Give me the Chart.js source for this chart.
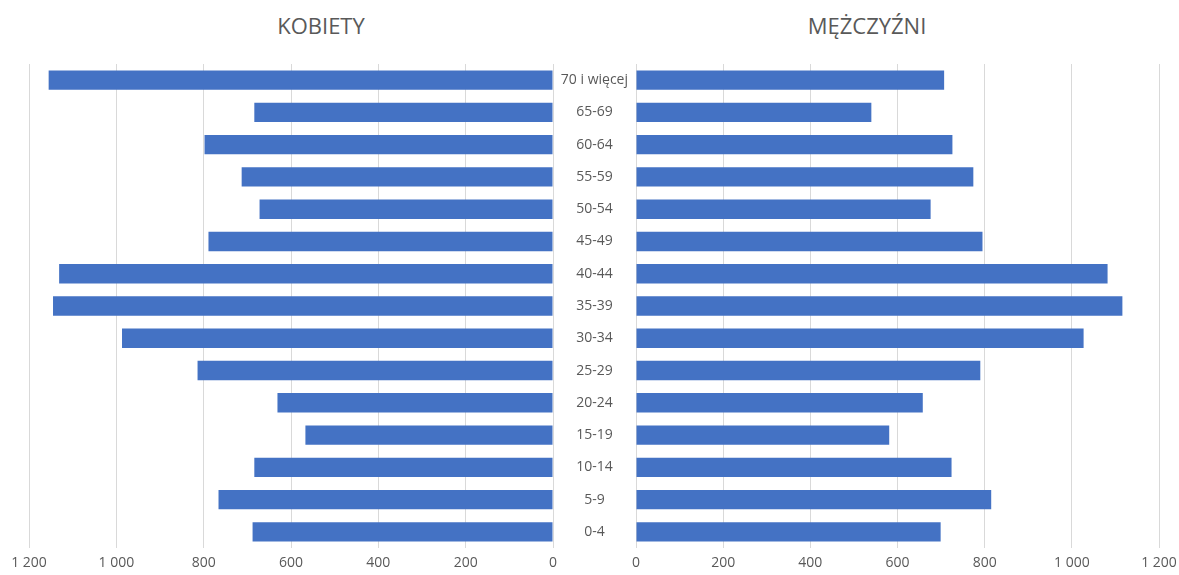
<!DOCTYPE html>
<html>
<head>
<meta charset="utf-8">
<script src="https://cdn.jsdelivr.net/npm/chart.js@4"></script>
<style>
  html, body { margin: 0; padding: 0; background: #fff; }
  #wrap { position: relative; width: 1179px; height: 575px; overflow: hidden; }
  .title { position: absolute; top: 10px; font-family: "Open Sans", sans-serif; font-size: 22px; color: #595959; transform: translateX(-50%); white-space: nowrap; }
  #left { position: absolute; left: 0; top: 0; }
  #right { position: absolute; left: 552px; top: 0; }
</style>
</head>
<body>
<div id="wrap">
  <div class="title" style="left:321px">KOBIETY</div>
  <div class="title" style="left:867px">MĘŻCZYŹNI</div>
  <canvas id="left" width="594" height="575"></canvas>
  <canvas id="right" width="627" height="575"></canvas>
</div>
<script>
// grupy wieku (od góry)
const ageGroups = ['70 i więcej', '65-69', '60-64', '55-59', '50-54', '45-49', '40-44', '35-39',
                   '30-34', '25-29', '20-24', '15-19', '10-14', '5-9', '0-4'];
const kobiety = [1155, 684, 798, 713, 672, 789, 1131, 1145, 987, 814, 631, 567, 684, 766, 688];
const mezczyzni = [707, 540, 726, 774, 676, 795, 1082, 1116, 1027, 790, 658, 581, 724, 815, 699];
const axisTicks = [0, 200, 400, 600, 800, 1000, 1200];

const grey = '#595959';
const barColor = '#4472C4';
const font = { family: 'Open Sans', size: 14 };

function fmt(v) {
  // separator tysięcy jak w Excelu: "1 200"
  return v >= 1000 ? Math.floor(v / 1000) + ' ' + String(v % 1000).padStart(3, '0') : String(v);
}

function xScale(reverse) {
  return {
    reverse: reverse,
    min: axisTicks[0],
    max: axisTicks[axisTicks.length - 1],
    afterBuildTicks: s => { s.ticks = axisTicks.map(v => ({ value: v })); },
    afterFit: s => { s.height = 27; s.paddingLeft = 0; s.paddingRight = 0; },
    ticks: { color: grey, font: font, padding: 7, callback: v => fmt(v), maxRotation: 0 },
    grid: { color: '#d9d9d9', drawTicks: false },
    border: { display: false }
  };
}

function makeChart(id, data, isLeft) {
  const yScale = {
    display: !isLeft,
    grid: { display: false, drawTicks: false },
    border: { display: false },
    ticks: { color: grey, font: font, crossAlign: 'center', padding: 8 }
  };
  if (!isLeft) yScale.afterFit = s => { s.width = 84; };

  return new Chart(document.getElementById(id), {
    type: 'bar',
    data: {
      labels: ageGroups,
      datasets: [{
        data: data,
        backgroundColor: barColor,
        borderWidth: 0,
        barPercentage: 0.6,
        categoryPercentage: 1.0
      }]
    },
    options: {
      indexAxis: 'y',
      responsive: false,
      animation: false,
      layout: { padding: isLeft ? { left: 29, right: 41, top: 64, bottom: 0 } : { left: 0, right: 20, top: 64, bottom: 0 } },
      plugins: { legend: { display: false }, tooltip: { enabled: false } },
      scales: {
        x: xScale(isLeft),
        y: yScale
      }
    }
  });
}

makeChart('left', kobiety, true);
makeChart('right', mezczyzni, false);
</script>
</body>
</html>
